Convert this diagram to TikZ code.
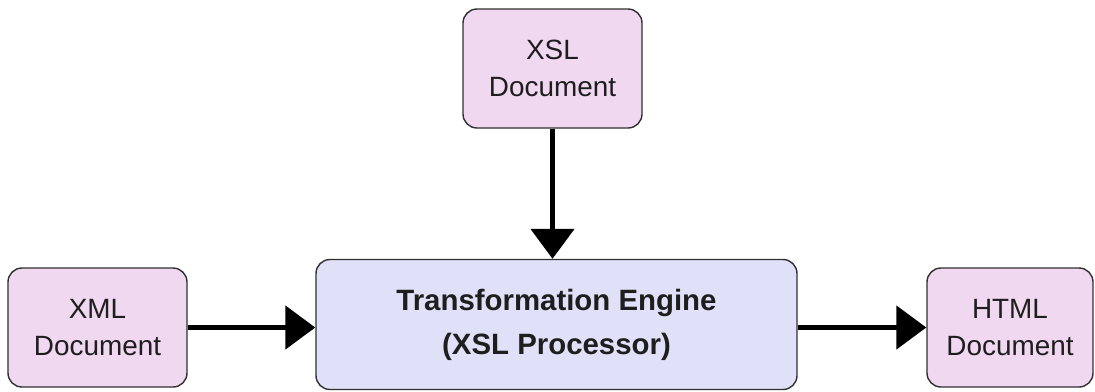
\documentclass[tikz,border=0pt]{standalone}
\usepackage{fontspec}
\setmainfont{Liberation Sans}
\usetikzlibrary{arrows.meta}
\definecolor{docfill}{RGB}{240,216,240}
\definecolor{engfill}{RGB}{224,224,248}
\definecolor{edge}{RGB}{48,48,48}
\definecolor{ink}{RGB}{30,30,30}
\begin{document}
\begin{tikzpicture}[x=1bp,y=-1bp,
  docbox/.style={draw=edge, line width=1.4bp, fill=docfill, rounded corners=14bp,
    minimum width=179bp, minimum height=119bp, inner sep=0pt, align=center,
    text=ink, font=\fontsize{28}{37}\selectfont},
  engbox/.style={draw=edge, line width=1.4bp, fill=engfill, rounded corners=14bp,
    minimum width=481bp, minimum height=130bp, inner sep=0pt, align=center,
    text=ink, font=\fontsize{29.5}{44}\selectfont\bfseries},
  flow/.style={line width=5bp, -{Triangle[length=30bp,width=43bp]}}]
  \useasboundingbox (0,0) rectangle (1095,391);
  \fill[white] (0,0) rectangle (1095,391);

  \node[docbox] (xsl) at (552.5,68.5) {XSL\\Document};
  \node[docbox] (xml) at (97.5,327.5) {XML\\Document};
  \node[docbox, minimum width=166bp] (html) at (1010,327.5) {HTML\\Document};
  \node[engbox] (eng) at (556.5,324.5) {Transformation Engine\\(XSL Processor)};

  \draw[flow] (xsl.south) -- (xsl.south |- eng.north);
  \draw[flow] (xml.east) -- (xml.east -| eng.west);
  \draw[flow] (eng.east |- html.west) -- (html.west);
\end{tikzpicture}
\end{document}
